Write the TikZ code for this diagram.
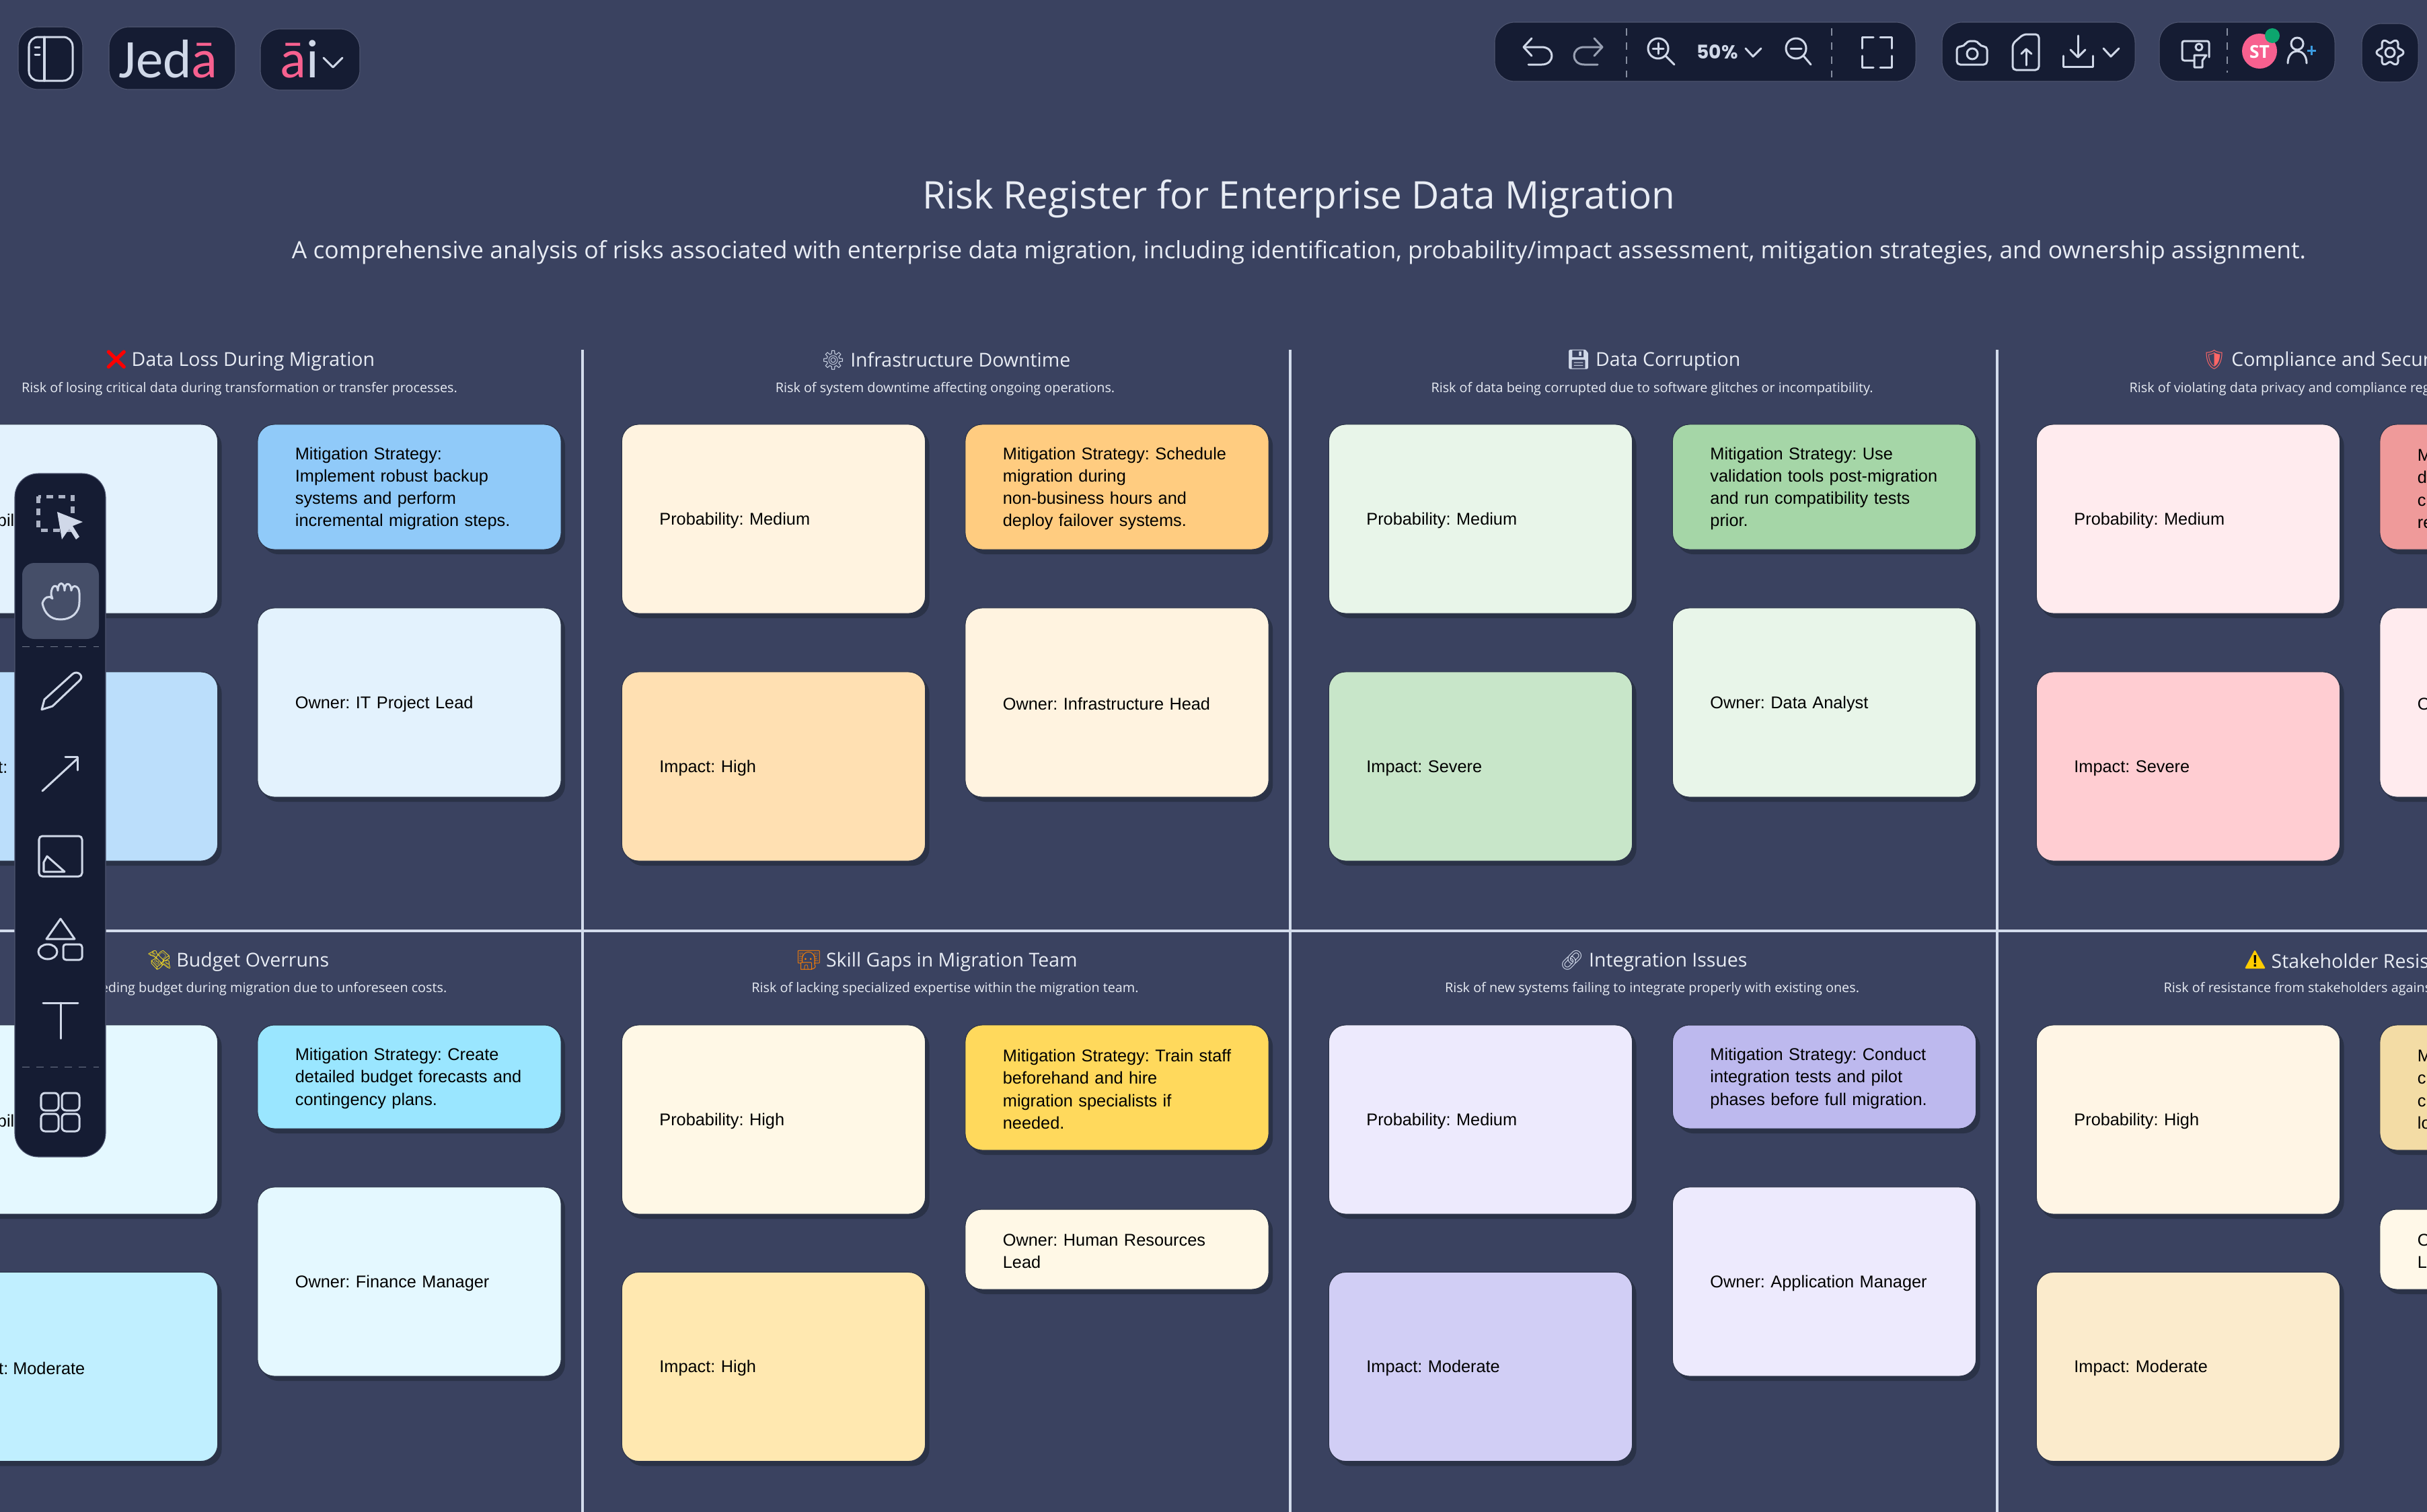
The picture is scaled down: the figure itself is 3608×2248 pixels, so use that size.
\documentclass[tikz,border=0pt]{standalone}
\usepackage{fontspec}
\setmainfont{Liberation Sans}
\newfontfamily\headfont{Open Sans}
\newfontfamily\emojifont{Noto Emoji}
\newfontfamily\logofont{Carlito}
\newfontfamily\zoomfont{Poppins}
\usetikzlibrary{shadows}
\definecolor{pagecol}{HTML}{3A4260}
\definecolor{barcol}{HTML}{151C33}
\definecolor{shadowcol}{HTML}{2A3247}
\definecolor{rulecol}{HTML}{D3DCEC}
\definecolor{headcol}{HTML}{E8ECF4}
\definecolor{iconcol}{HTML}{D0D8E8}
\definecolor{pinkcol}{HTML}{F7608F}
\definecolor{handcol}{HTML}{454E68}
\definecolor{dotcol}{HTML}{0DA66E}
\definecolor{pluscol}{HTML}{3B9BE0}
\definecolor{warncol}{HTML}{FFCC00}
\newcommand{\emo}[2]{{\emojifont\textcolor{#1}{#2}}}
\frenchspacing

\begin{document}
\begin{tikzpicture}[x=0.01cm,y=-0.01cm]
      \useasboundingbox (0,0) rectangle (3608,2248);
      \clip (0,0) rectangle (3608,2248);
      \fill [pagecol] (0,0) rectangle (3608,2248);
      \tikzstyle {card} = [shape=rectangle, rounded corners=0.25cm, draw=shadowcol, line width=0.3pt, text=black, minimum width=4.51cm, text width=3.39cm, inner xsep=0.56cm, inner ysep=0pt, align=left, font=\fontsize{7.2}{9.45}\selectfont, execute at begin node={\rule{0pt}{6.55pt}}, drop shadow={shadow xshift=0.06cm, shadow yshift=-0.07cm, fill=shadowcol, opacity=1}];
      \tikzstyle {tall} = [card, minimum height=2.81cm];
      \tikzstyle {four} = [card, minimum height=1.86cm];
      \tikzstyle {three} = [card, minimum height=1.54cm];
      \tikzstyle {short} = [card, minimum height=1.19cm];
      \tikzstyle {cut} = [inner sep=0pt, text=black, font=\fontsize{7.2}{9.45}\selectfont];
      \tikzstyle {head} = [inner sep=0pt, text=headcol, font=\headfont\fontsize{8.1}{10}\selectfont];
      \tikzstyle {sub} = [inner sep=0pt, text=headcol, font=\headfont\fontsize{5.63}{7}\selectfont];
      \tikzstyle {pill} = [fill=barcol, draw=pagecol!90!white, line width=0.3pt, rounded corners=0.3cm];
      \tikzstyle {icon} = [draw=iconcol, line width=0.03cm, line cap=round, line join=round];
      \tikzstyle {rule} = [draw=rulecol, line width=0.035cm];

      % grid
      \draw [rule] (0,1384) -- (3608,1384);
      \draw [rule] (866,520) -- (866,2248);
      \draw [rule] (1918,520) -- (1918,2248);
      \draw [rule] (2969,520) -- (2969,2248);

      \node (title) [inner sep=0pt, text=headcol, font=\headfont\fontsize{16.1}{19}\selectfont] at (1931,296) {Risk Register for Enterprise Data Migration};
      \node (subtitle) [inner sep=0pt, text=headcol, font=\headfont\fontsize{10.08}{13}\selectfont] at (1931,375) {A comprehensive analysis of risks associated with enterprise data migration, including identification, probability/impact assessment, mitigation strategies, and ownership assignment.};

      % first row
      \node (lossh) [head] at (356,536) {\emo{red}{❌}\,Data Loss During Migration};
      \node (losss) [sub] at (356,578) {Risk of losing critical data during transformation or transfer processes.};
      \node (lossp) [tall, fill={rgb,255:red,227;green,242;blue,253}] at (98,771.5) {};
      \node (lossi) [tall, fill={rgb,255:red,187;green,222;blue,251}] at (98,1139.5) {};
      \node (lossm) [four, fill={rgb,255:red,144;green,202;blue,249}] at (608.5,724) {Mitigation Strategy:\\Implement robust backup\\systems and perform\\incremental migration steps.};
      \node (losso) [tall, fill={rgb,255:red,227;green,242;blue,253}] at (608.5,1044.5) {Owner: IT Project Lead};
      \node (losspt) [cut, anchor=east] at (22,773) {bil};
      \node (lossit) [cut, anchor=east] at (12,1141) {t:};

      \node (downh) [head] at (1406,536) {\emo{iconcol}{⚙} Infrastructure Downtime};
      \node (downs) [sub] at (1405,578) {Risk of system downtime affecting ongoing operations.};
      \node (downp) [tall, fill={rgb,255:red,255;green,243;blue,224}] at (1150,771.5) {Probability: Medium};
      \node (downi) [tall, fill={rgb,255:red,255;green,224;blue,178}] at (1150,1139.5) {Impact: High};
      \node (downm) [four, fill={rgb,255:red,255;green,204;blue,128}] at (1660.5,724) {Mitigation Strategy: Schedule\\migration during\\non-business hours and\\deploy failover systems.};
      \node (downo) [tall, fill={rgb,255:red,255;green,243;blue,224}] at (1660.5,1044.5) {Owner: Infrastructure Head};

      \node (corrh) [head] at (2458,536) {\emo{iconcol}{💾} Data Corruption};
      \node (corrs) [sub] at (2456,578) {Risk of data being corrupted due to software glitches or incompatibility.};
      \node (corrp) [tall, fill={rgb,255:red,232;green,245;blue,233}] at (2201,771.5) {Probability: Medium};
      \node (corri) [tall, fill={rgb,255:red,200;green,230;blue,201}] at (2201,1139.5) {Impact: Severe};
      \node (corrm) [four, fill={rgb,255:red,165;green,214;blue,167}] at (2712,724) {Mitigation Strategy: Use\\validation tools post-migration\\and run compatibility tests\\prior.};
      \node (corro) [tall, fill={rgb,255:red,232;green,245;blue,233}] at (2712,1044.5) {Owner: Data Analyst};

      \node (comph) [head, anchor=west] at (3273,536) {\emo{red!60!white}{🛡} Compliance and Secur};
      \node (comps) [sub, anchor=west] at (3165,578) {Risk of violating data privacy and compliance reg};
      \node (compp) [tall, fill={rgb,255:red,255;green,235;blue,238}] at (3253,771.5) {Probability: Medium};
      \node (compi) [tall, fill={rgb,255:red,255;green,205;blue,210}] at (3253,1139.5) {Impact: Severe};
      \node (compm) [four, fill={rgb,255:red,239;green,154;blue,154}] at (3763.5,724) {M\\d\\c\\re};
      \node (compo) [tall, fill={rgb,255:red,255;green,235;blue,238}] at (3763.5,1044.5) {O};

      % second row
      \node (budgh) [head] at (354,1429) {\emo{yellow!70!brown}{💸} Budget Overruns};
      \node (budgs) [sub, anchor=east] at (665,1470) {eding budget during migration due to unforeseen costs.};
      \node (budgp) [tall, fill={rgb,255:red,228;green,248;blue,255}] at (98,1664.5) {};
      \node (budgi) [tall, fill={rgb,255:red,192;green,239;blue,255}] at (98,2032) {};
      \node (budgm) [three, fill={rgb,255:red,154;green,230;blue,255}] at (608.5,1601) {Mitigation Strategy: Create\\detailed budget forecasts and\\contingency plans.};
      \node (budgo) [tall, fill={rgb,255:red,228;green,248;blue,255}] at (608.5,1905.5) {Owner: Finance Manager};
      \node (budgpt) [cut, anchor=east] at (22,1666) {bil};
      \node (budgit) [cut, anchor=east] at (127,2034) {t: Moderate};

      \node (skilh) [head] at (1393,1429) {\emo{orange}{👩‍💻} Skill Gaps in Migration Team};
      \node (skils) [sub] at (1405,1470) {Risk of lacking specialized expertise within the migration team.};
      \node (skilp) [tall, fill={rgb,255:red,255;green,248;blue,230}] at (1150,1664.5) {Probability: High};
      \node (skili) [tall, fill={rgb,255:red,255;green,232;blue,176}] at (1150,2032) {Impact: High};
      \node (skilm) [four, fill={rgb,255:red,255;green,217;blue,92}] at (1660.5,1617) {Mitigation Strategy: Train staff\\beforehand and hire\\migration specialists if\\needed.};
      \node (skilo) [short, fill={rgb,255:red,255;green,248;blue,230}] at (1660.5,1857.5) {Owner: Human Resources\\Lead};

      \node (integh) [head] at (2458,1429) {\emo{iconcol}{🔗} Integration Issues};
      \node (integs) [sub] at (2456,1470) {Risk of new systems failing to integrate properly with existing ones.};
      \node (integp) [tall, fill={rgb,255:red,237;green,234;blue,253}] at (2201,1664.5) {Probability: Medium};
      \node (integi) [tall, fill={rgb,255:red,209;green,206;blue,245}] at (2201,2032) {Impact: Moderate};
      \node (integm) [three, fill={rgb,255:red,189;green,185;blue,238}] at (2712,1601) {Mitigation Strategy: Conduct\\integration tests and pilot\\phases before full migration.};
      \node (integr) [tall, fill={rgb,255:red,237;green,234;blue,253}] at (2712,1905.5) {Owner: Application Manager};

      \fill [warncol, rounded corners=0.02cm] (3352,1412) -- (3368,1440) -- (3337,1440) -- cycle;
      \node (stakw) [inner sep=0pt, font=\fontsize{7}{8}\selectfont\bfseries] at (3352.5,1429) {!};
      \node (stakh) [head, anchor=west] at (3376,1429) {Stakeholder Resis};
      \node (staks) [sub, anchor=west] at (3216,1470) {Risk of resistance from stakeholders agains};
      \node (stakp) [tall, fill={rgb,255:red,255;green,245;blue,229}] at (3253,1664.5) {Probability: High};
      \node (staki) [tall, fill={rgb,255:red,251;green,235;blue,204}] at (3253,2032) {Impact: Moderate};
      \node (stakm) [four, fill={rgb,255:red,243;green,220;blue,165}] at (3763.5,1617) {M\\c\\c\\lo};
      \node (stako) [short, fill={rgb,255:red,255;green,248;blue,232}] at (3763.5,1857.5) {O\\L};

      % left toolbar
      \draw [pill, rounded corners=0.35cm] (22,704) rectangle (157,1720);
      \fill [handcol, rounded corners=0.18cm] (33,837) rectangle (147,950);
      \draw [draw=iconcol!50!barcol, line width=0.01cm, dashed] (33,961) -- (147,961);
      \draw [draw=iconcol!50!barcol, line width=0.01cm, dashed] (33,1586) -- (147,1586);
      \draw [draw=iconcol!80!barcol, line width=0.05cm, dash pattern=on 0.1cm off 0.08cm] (57,738) rectangle (108,788);
      \fill [iconcol] (85,761) -- (123,776) -- (108,782) -- (118,798) -- (113,802) -- (103,786) -- (92,802) -- cycle;
      \draw [icon] (78,890) -- (76,884) .. controls (76,868) and (86,868) .. (86,878) .. controls (86,864) and (96,864) .. (96,878) .. controls (96,864) and (106,866) .. (106,878) .. controls (107,868) and (118,870) .. (118,882) -- (118,895) .. controls (118,912) and (105,921) .. (90,921) .. controls (75,921) and (66,912) .. (63,897) .. controls (66,887) and (74,885) .. (78,890);
      \draw [icon] (62,1055) -- (66,1040) -- (108,1002) .. controls (115,996) and (126,1005) .. (118,1012) -- (78,1050) -- cycle;
      \draw [icon] (63,1176) -- (115,1128);
      \draw [icon] (97,1125) -- (115,1125) -- (115,1145);
      \draw [icon, rounded corners=0.05cm] (58,1243) rectangle (122,1303);
      \draw [icon] (65,1282) -- (70,1273) -- (96,1296) -- (65,1296) -- cycle;
      \draw [icon] (90,1366) -- (111,1396) -- (69,1396) -- cycle;
      \draw [icon] (71,1415) circle [x radius=14, y radius=11];
      \draw [icon, rounded corners=0.04cm] (94,1404) rectangle (122,1427);
      \draw [icon] (64,1491) -- (116,1491);
      \draw [icon] (90,1491) -- (90,1544);
      \draw [icon, rounded corners=0.06cm] (61,1625) rectangle (87,1651);
      \draw [icon, rounded corners=0.06cm] (92,1625) rectangle (118,1651);
      \draw [icon, rounded corners=0.06cm] (61,1656) rectangle (87,1682);
      \draw [icon, rounded corners=0.06cm] (92,1656) rectangle (118,1682);

      % top left
      \draw [pill] (27,40) rectangle (123,133);
      \draw [icon, rounded corners=0.14cm] (43,55) rectangle (108,120);
      \draw [icon] (66,55) -- (66,120);
      \draw [icon] (52,70) -- (59,70);
      \draw [icon] (52,81) -- (59,81);
      \draw [pill] (162,40) rectangle (350,133);
      \node (jeda) [inner sep=0pt, text=iconcol, font=\logofont\fontsize{23}{25}\selectfont] at (250,88) {Jed\textcolor{pinkcol}{ā}};
      \draw [pill] (387,43) rectangle (535,134);
      \node (ailogo) [inner sep=0pt, text=iconcol, font=\logofont\fontsize{23}{25}\selectfont] at (445,88) {\textcolor{pinkcol}{ā}i};
      \draw [icon] (481,86) -- (495,100) -- (509,86);

      % top right
      \draw [pill] (2222,33) rectangle (2848,121);
      \draw [pill] (2887,33) rectangle (3174,121);
      \draw [pill] (3210,33) rectangle (3471,121);
      \draw [pill] (3511,35) rectangle (3595,122);
      \draw [icon] (2277,57) -- (2265,70) -- (2277,83);
      \draw [icon] (2265,70) -- (2292,70) .. controls (2312,70) and (2312,96) .. (2292,96) -- (2272,96);
      \draw [icon, draw=iconcol!70!barcol] (2370,57) -- (2382,70) -- (2370,83);
      \draw [icon, draw=iconcol!70!barcol] (2382,70) -- (2355,70) .. controls (2335,70) and (2335,96) .. (2355,96) -- (2375,96);
      \draw [draw=iconcol!60!barcol, line width=0.012cm, dashed] (2418,42) -- (2418,115);
      \draw [icon] (2465,72) circle [radius=15];
      \draw [icon] (2476,83) -- (2489,96);
      \draw [icon] (2457,72) -- (2473,72);
      \draw [icon] (2465,64) -- (2465,80);
      \node (zoomval) [inner sep=0pt, text=iconcol, font=\zoomfont\bfseries\fontsize{8}{10}\selectfont] at (2553,77) {50\%};
      \draw [icon] (2595,72) -- (2606,84) -- (2618,72);
      \draw [icon] (2670,72) circle [radius=15];
      \draw [icon] (2681,83) -- (2692,96);
      \draw [icon] (2662,72) -- (2678,72);
      \draw [draw=iconcol!60!barcol, line width=0.012cm, dashed] (2723,42) -- (2723,115);
      \draw [icon] (2785,55) -- (2768,55) -- (2768,72);
      \draw [icon] (2795,55) -- (2812,55) -- (2812,72);
      \draw [icon] (2768,83) -- (2768,100) -- (2785,100);
      \draw [icon] (2812,83) -- (2812,100) -- (2795,100);
      \draw [icon, rounded corners=0.05cm] (2909,69) -- (2920,69) -- (2924,61) -- (2940,61) -- (2944,69) -- (2954,69) -- (2954,96) -- (2909,96) -- cycle;
      \draw [icon] (2932,80) circle [radius=8];
      \draw [icon, rounded corners=0.05cm] (2992,104) -- (2992,65) -- (3008,51) -- (3031,51) -- (3031,104) -- cycle;
      \draw [icon] (3012,97) -- (3012,73);
      \draw [icon] (3005,80) -- (3012,73) -- (3020,80);
      \draw [icon] (3067,83) -- (3067,99) -- (3111,99) -- (3111,83);
      \draw [icon] (3089,53) -- (3089,85);
      \draw [icon] (3078,74) -- (3089,85) -- (3100,74);
      \draw [icon] (3127,72) -- (3138,84) -- (3150,72);
      \draw [icon, rounded corners=0.03cm] (3262,90) -- (3244,90) -- (3244,61) -- (3284,61) -- (3284,85);
      \draw [icon] (3269,70) circle [radius=5];
      \draw [icon] (3262,100) -- (3262,82) -- (3280,82) -- (3274,90) -- (3274,100) -- cycle;
      \draw [draw=iconcol!60!barcol, line width=0.012cm, dashed] (3311,42) -- (3311,108);
      \fill [pinkcol] (3359,76) circle [radius=26];
      \node (avatar) [inner sep=0pt, text=white, font=\headfont\bfseries\fontsize{7.5}{9}\selectfont] at (3359,77) {ST};
      \fill [dotcol] (3378,53) circle [radius=11];
      \draw [icon] (3415,65) circle [radius=9];
      \draw [icon] (3401,94) .. controls (3401,70) and (3429,70) .. (3429,94);
      \draw [draw=pluscol, line width=0.03cm] (3430,75) -- (3443,75);
      \draw [draw=pluscol, line width=0.03cm] (3436.5,68) -- (3436.5,82);
      \draw [icon] plot [domain=0:360, samples=73, smooth] ({3553+(17+3*cos(6*\x))*cos(\x)},{78+(17+3*cos(6*\x))*sin(\x)});
      \draw [icon] (3553,78) circle [radius=7];
    \end{tikzpicture}
\end{document}
